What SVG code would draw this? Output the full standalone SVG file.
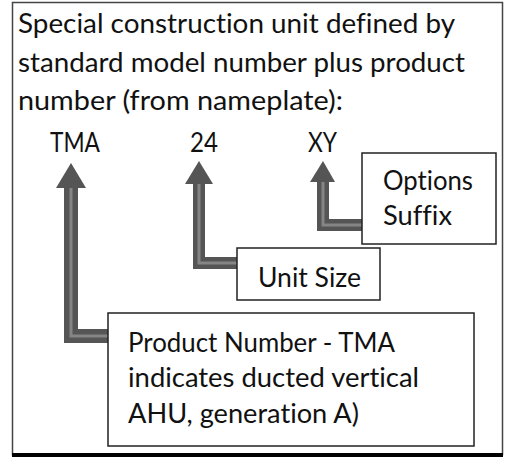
<svg xmlns="http://www.w3.org/2000/svg" width="506" height="461" viewBox="0 0 506 461">
<style>
text{font-family:Lato,"Liberation Sans",sans-serif;font-size:26px;fill:#111;font-variant-ligatures:none}
.box{fill:#fff;stroke:#222;stroke-width:1.5}
.shaft{fill:none;stroke:#555;stroke-linejoin:miter}
.inner{fill:none;stroke:#858585;stroke-width:3}
.head{fill:#555}
</style>
<rect width="506" height="461" fill="#fff"/>
<g id="frame">
<rect x="12.5" y="2.5" width="490" height="452" fill="#fff" stroke="#444" stroke-width="1.5"/>
<line x1="12" y1="455" x2="503" y2="455" stroke="#000" stroke-width="4"/>
</g>
<g id="heading">
<text x="18" y="33" textLength="437" lengthAdjust="spacingAndGlyphs">Special construction unit defined by</text>
<text x="18" y="72" textLength="447" lengthAdjust="spacingAndGlyphs">standard model number plus product</text>
<text x="18" y="110" textLength="325" lengthAdjust="spacingAndGlyphs">number (from nameplate):</text>
</g>
<g id="code">
<text x="50" y="152" textLength="50" lengthAdjust="spacingAndGlyphs">TMA</text>
<text x="190" y="152" textLength="28" lengthAdjust="spacingAndGlyphs">24</text>
<text x="308" y="152" textLength="29" lengthAdjust="spacingAndGlyphs">XY</text>
</g>
<g id="connectors">
<path class="shaft" stroke-width="14" d="M71,185 V336 H110"/>
<path class="inner" d="M71,185 V336 H110"/>
<polygon class="head" points="71,163 86,188 56,188"/>
<path class="shaft" stroke-width="12" d="M199,181 V263 H238"/>
<path class="inner" d="M199,181 V263 H238"/>
<polygon class="head" points="199,161 213,184 185,184"/>
<path class="shaft" stroke-width="12" d="M323,180 V225 H363"/>
<path class="inner" d="M323,180 V225 H363"/>
<polygon class="head" points="323,161 335,182 310,182"/>
</g>
<g id="options-suffix">
<rect class="box" x="362" y="153" width="134" height="91"/>
<text x="383" y="190" textLength="90" lengthAdjust="spacingAndGlyphs">Options</text>
<text x="383" y="225" textLength="69" lengthAdjust="spacingAndGlyphs">Suffix</text>
</g>
<g id="unit-size">
<rect class="box" x="237" y="248" width="143" height="52"/>
<text x="258" y="287" textLength="103" lengthAdjust="spacingAndGlyphs">Unit Size</text>
</g>
<g id="product-number">
<rect class="box" x="108" y="313" width="366" height="133"/>
<text x="128" y="352" textLength="267" lengthAdjust="spacingAndGlyphs">Product Number - TMA</text>
<text x="128" y="387" textLength="291" lengthAdjust="spacingAndGlyphs">indicates ducted vertical</text>
<text x="128" y="423" textLength="231" lengthAdjust="spacingAndGlyphs">AHU, generation A)</text>
</g>
</svg>
